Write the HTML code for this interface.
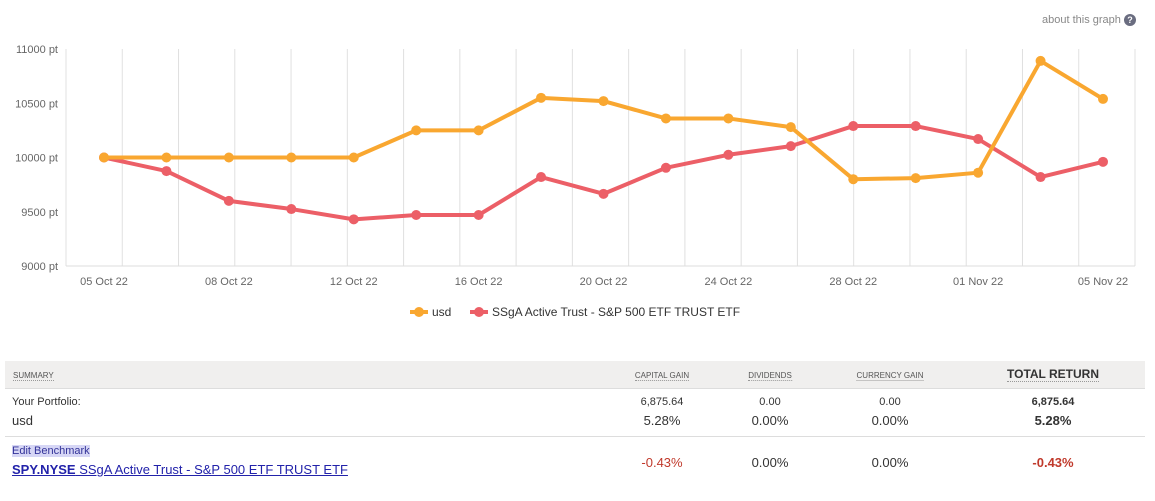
<!DOCTYPE html>
<html><head><meta charset="utf-8">
<style>
body{margin:0;width:1155px;height:501px;background:#fff;font-family:"Liberation Sans",sans-serif;overflow:hidden;position:relative}
.abs{position:absolute}
.tbl{position:absolute;left:5px;top:361px;width:1140px}
.hdr{height:27px;background:#f0efee;border-bottom:1px solid #ddd;position:relative}
.hdr span{position:absolute;top:10px;font-size:8px;color:#555;border-bottom:1px dotted #999;transform:translateX(-50%)}
.c{position:absolute;transform:translateX(-50%);text-align:center;white-space:nowrap}
</style></head><body>
<div class="abs" style="left:1042px;top:14px;font-size:11px;color:#888">about this graph <span style="display:inline-block;width:12px;height:12px;border-radius:6px;background:#6a6d80;color:#fff;font-size:9px;text-align:center;line-height:12px;font-weight:bold">?</span></div>
<svg id="chart" class="abs" style="left:0;top:0" width="1155" height="330"></svg>
<div class="tbl">
 <div class="hdr">
  <span style="transform:none;left:8px">SUMMARY</span>
  <span style="left:657px">CAPITAL GAIN</span>
  <span style="left:765px">DIVIDENDS</span>
  <span style="left:885px">CURRENCY GAIN</span>
  <span style="left:1048px;top:6px;font-size:12px;font-weight:bold;color:#333">TOTAL RETURN</span>
 </div>
 <div style="position:relative;height:47px;border-bottom:1px solid #ddd;font-size:13px;color:#333">
  <div class="abs" style="left:7px;top:7px;font-size:11px">Your Portfolio:</div>
  <div class="abs" style="left:7px;top:24px">usd</div>
  <div class="c" style="left:657px;top:7px;font-size:11px">6,875.64</div>
  <div class="c" style="left:657px;top:24px">5.28%</div>
  <div class="c" style="left:765px;top:7px;font-size:11px">0.00</div>
  <div class="c" style="left:765px;top:24px">0.00%</div>
  <div class="c" style="left:885px;top:7px;font-size:11px">0.00</div>
  <div class="c" style="left:885px;top:24px">0.00%</div>
  <div class="c" style="left:1048px;top:7px;font-size:11px;font-weight:bold">6,875.64</div>
  <div class="c" style="left:1048px;top:24px;font-weight:bold">5.28%</div>
 </div>
 <div style="position:relative;height:50px;font-size:13px;color:#333">
  <div class="abs" style="left:7px;top:8px;font-size:11px;color:#333399;background:#d6d6f5">Edit Benchmark</div>
  <div class="abs" style="left:7px;top:25px;color:#2222aa;text-decoration:underline"><b>SPY.NYSE</b> SSgA Active Trust - S&amp;P 500 ETF TRUST ETF</div>
  <div class="c" style="left:657px;top:18px;color:#c0392b">-0.43%</div>
  <div class="c" style="left:765px;top:18px">0.00%</div>
  <div class="c" style="left:885px;top:18px">0.00%</div>
  <div class="c" style="left:1048px;top:18px;color:#c0392b;font-weight:bold">-0.43%</div>
 </div>
</div>
<script>
const categories=["05 Oct 22","06 Oct 22","08 Oct 22","10 Oct 22","12 Oct 22","14 Oct 22","16 Oct 22","18 Oct 22","20 Oct 22","22 Oct 22","24 Oct 22","26 Oct 22","28 Oct 22","30 Oct 22","01 Nov 22","03 Nov 22","05 Nov 22"];
const usdValues=[10000,10000,10000,10000,10000,10250,10250,10550,10520,10360,10360,10280,9800,9810,9860,10890,10540];
const spyValues=[10000,9875,9600,9525,9430,9470,9470,9820,9665,9905,10025,10105,10290,10290,10170,9820,9960];
const yTicks=[9000,9500,10000,10500,11000];
const xTickLabels=["05 Oct 22","08 Oct 22","12 Oct 22","16 Oct 22","20 Oct 22","24 Oct 22","28 Oct 22","01 Nov 22","05 Nov 22"];
const xTickIdx=[0,2,4,6,8,10,12,14,16];
const NS="http://www.w3.org/2000/svg";
const svg=document.getElementById('chart');
const L=66,R=1135,T=49,B=266;
const x=i=>104+i*(1103-104)/(categories.length-1);
const y=v=>B-(v-9000)/2000*(B-T);
function mk(tag,at){const e=document.createElementNS(NS,tag);for(const k in at)e.setAttribute(k,at[k]);svg.appendChild(e);return e;}
for(let k=0;k<=19;k++){const gx=L+k*(R-L)/19;
 const g=mk('line',{x1:gx,x2:gx,y1:T,y2:B,stroke:'#e0e0e0','stroke-width':1});
 
 }
const ax=mk('line',{x1:L,x2:R,y1:B,y2:B,stroke:'#ddd','stroke-width':1});


yTicks.forEach(v=>{const t=mk('text',{x:58,y:y(v)+4,'text-anchor':'end','font-size':11,fill:'#666','font-family':'Liberation Sans'});t.textContent=v+' pt';
 
 });
xTickIdx.forEach((ci,j)=>{const t=mk('text',{x:x(ci),y:285,'text-anchor':'middle','font-size':11,fill:'#666','font-family':'Liberation Sans'});t.textContent=xTickLabels[j];
 
 });
function series(vals,col,name){
 const p=mk('polyline',{points:vals.map((v,i)=>x(i)+','+y(v)).join(' '),fill:'none',stroke:col,'stroke-width':4,'stroke-linejoin':'round'});
 
 
 vals.forEach((v,i)=>{const c=mk('circle',{cx:x(i),cy:y(v),r:5,fill:col});
  
  });
}
series(spyValues,'#ec5f67','spy');
series(usdValues,'#f9a730','usd');
function legend(x0,col,label,name){
 const g=mk('g',{});
 
 
 const l=document.createElementNS(NS,'line');l.setAttribute('x1',x0);l.setAttribute('x2',x0+18);l.setAttribute('y1',312);l.setAttribute('y2',312);l.setAttribute('stroke',col);l.setAttribute('stroke-width',4);g.appendChild(l);
 const c=document.createElementNS(NS,'circle');c.setAttribute('cx',x0+9);c.setAttribute('cy',312);c.setAttribute('r',5);c.setAttribute('fill',col);g.appendChild(c);
 const t=document.createElementNS(NS,'text');t.setAttribute('x',x0+22);t.setAttribute('y',316);t.setAttribute('font-size',12);t.setAttribute('fill','#333');t.setAttribute('font-family','Liberation Sans');t.textContent=label;g.appendChild(t);
}
legend(410,'#f9a730','usd','legend-usd');
legend(470,'#ec5f67','SSgA Active Trust - S&P 500 ETF TRUST ETF','legend-spy');
</script>
</body></html>
